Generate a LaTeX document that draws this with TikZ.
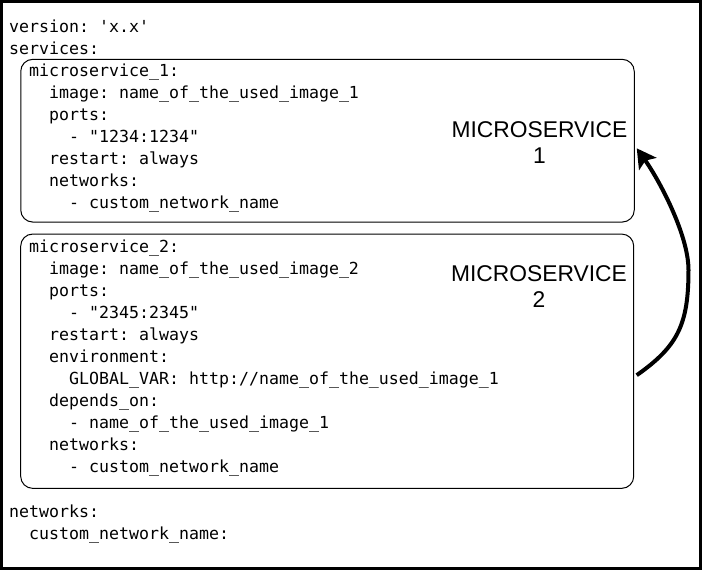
\documentclass[tikz,border=0pt]{standalone}
\usepackage{fontspec}
\setmonofont{DejaVu Sans Mono}
\newfontfamily\labelfont{Liberation Sans}
\usetikzlibrary{arrows.meta}
\tikzset{
  code/.style={anchor=base west, inner sep=0pt, font=\ttfamily\fontsize{16.6}{22}\selectfont},
  svcbox/.style={draw, line width=1pt, rounded corners=12pt, inner sep=0pt},
  svclabel/.style={anchor=base, inner sep=0pt, align=center, font=\labelfont\fontsize{22.8}{26}\selectfont},
  dep/.style={line width=4pt, -{Stealth[length=19pt,width=21pt,inset=4pt]}}
}
\begin{document}
\begin{tikzpicture}[x=1pt, y=-1pt]
\useasboundingbox (0,0) rectangle (702,570);
\draw[line width=3pt] (1.5,1.5) rectangle (700.5,568);
% service boxes
\node[svcbox, minimum width=613.5pt, minimum height=162.7pt] (m1) at (327.5,140.7) {};
\node[svcbox, minimum width=613pt, minimum height=254.3pt] (m2) at (327.2,361.2) {};
% top-level lines
\node[code] (l1) at (9,32.5) {version: 'x.x'};
\node[code] (l2) at (9,54.5) {services:};
% microservice 1
\node[code] (a1) at (29,76.5) {microservice\_1:};
\node[code] (a2) at (49,98.5) {image: name\_of\_the\_used\_image\_1};
\node[code] (a3) at (49,120.5) {ports:};
\node[code] (a4) at (69,142.5) {- "1234:1234"};
\node[code] (a5) at (49,164.5) {restart: always};
\node[code] (a6) at (49,186.5) {networks:};
\node[code] (a7) at (69,208.5) {- custom\_network\_name};
% microservice 2
\node[code] (b1) at (29,252.7) {microservice\_2:};
\node[code] (b2) at (49,274.7) {image: name\_of\_the\_used\_image\_2};
\node[code] (b3) at (49,296.7) {ports:};
\node[code] (b4) at (69,318.7) {- "2345:2345"};
\node[code] (b5) at (49,340.7) {restart: always};
\node[code] (b6) at (49,362.7) {environment:};
\node[code] (b7) at (69,384.7) {GLOBAL\_VAR: http://name\_of\_the\_used\_image\_1};
\node[code] (b8) at (49,406.7) {depends\_on:};
\node[code] (b9) at (69,428.7) {- name\_of\_the\_used\_image\_1};
\node[code] (b10) at (49,450.7) {networks:};
\node[code] (b11) at (69,472.7) {- custom\_network\_name};
% networks
\node[code] (n1) at (9,517.3) {networks:};
\node[code] (n2) at (29,539) {custom\_network\_name:};
% labels (base = baseline of last line)
\node[svclabel] (lab1) at (539.5,163.3) {MICROSERVICE\\1};
\node[svclabel] (lab2) at (539,307.7) {MICROSERVICE\\2};
% dependency arrow
\coordinate (apex) at (688.5,270);
\draw[dep] ([xshift=2.5pt,yshift=-14pt]m2.east)
  .. controls (677.5,346.5) and (688.5,325) .. (apex)
  .. controls (688.5,235) and (659.6,180.7) .. ([xshift=2pt,yshift=-7.6pt]m1.east);
\end{tikzpicture}
\end{document}
